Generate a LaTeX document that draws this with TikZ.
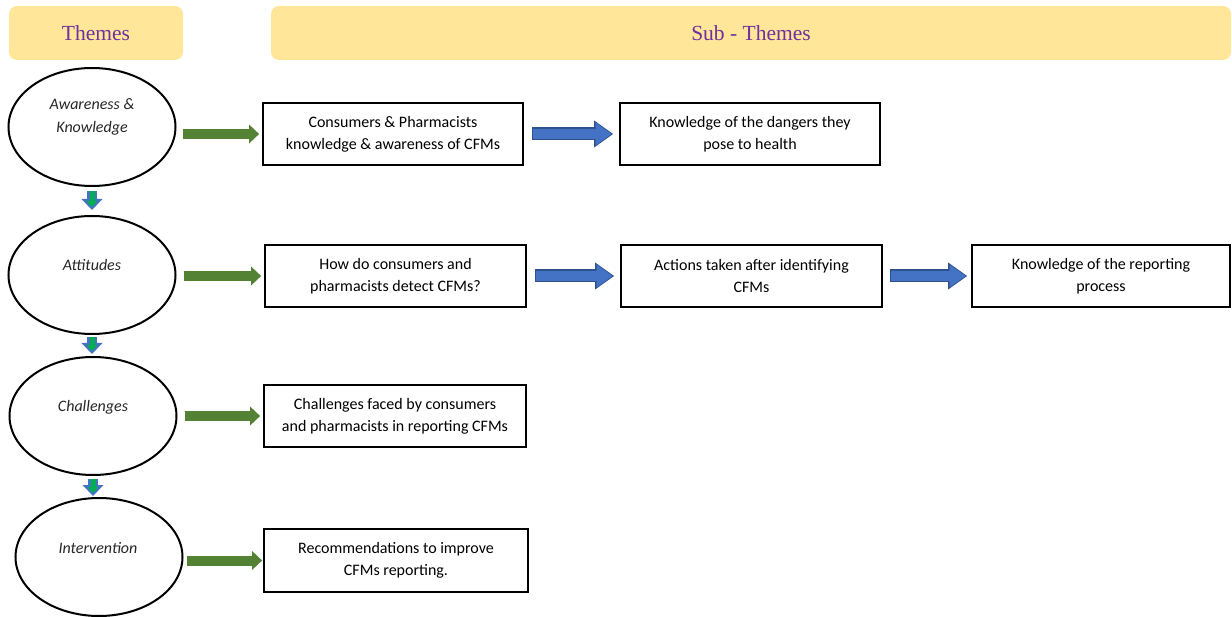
\documentclass[tikz,border=0pt]{standalone}
\usepackage{fontspec}
\setmainfont{Carlito}
\newfontfamily\tnr{Liberation Serif}
\usetikzlibrary{arrows.meta,calc,shapes.geometric}
\definecolor{hdr}{HTML}{FFE699}
\definecolor{purp}{HTML}{7030A0}
\definecolor{garrow}{HTML}{548235}
\definecolor{barrow}{HTML}{4472C4}
\definecolor{bedge}{HTML}{2F528F}
\definecolor{brightgreen}{HTML}{00B050}
\begin{document}
\begin{tikzpicture}[x=1pt,y=-1pt,
  hdrbox/.style={fill=hdr, rounded corners=8pt, draw=none, inner sep=0pt, minimum height=54pt, font=\tnr\fontsize{21.5}{25}\selectfont, text=purp},
  theme/.style={ellipse, draw, line width=2pt, minimum width=167pt, minimum height=118pt, inner sep=0pt},
  ttext/.style={font=\itshape\fontsize{16}{23}\selectfont, align=center, text=black!85, inner sep=0pt},
  sub/.style={draw, line width=1.8pt, minimum width=261pt, minimum height=62pt, inner sep=0pt, align=center, font=\fontsize{16}{22}\selectfont},
  garr/.style={draw=garrow, line width=10pt, -{Triangle[width=19pt,length=10pt,line width=0pt]}, shorten <=6pt, shorten >=3pt},
  barrout/.style={draw=bedge, line width=13pt, -{Triangle[width=27pt,length=19pt,line width=0pt]}, shorten <=8pt, shorten >=6pt},
  barrin/.style={draw=barrow, line width=10.5pt, -{Triangle[width=23pt,length=16pt,line width=0pt]}, shorten <=9.2pt, shorten >=7.6pt},
  darrout/.style={draw=barrow, line width=10pt, -{Triangle[width=21pt,length=11pt,line width=0pt]}},
  darrin/.style={draw=brightgreen, line width=5pt, -{Triangle[width=11pt,length=6pt,line width=0pt]}}
]
\useasboundingbox (0,0) rectangle (1232,617);

% headers
\node[hdrbox, minimum width=174pt] (h1) at (96,33) {Themes};
\node[hdrbox, minimum width=960pt] (h2) at (751,33) {Sub - Themes};

% themes
\node[theme] (e1) at (92,127) {};
\node[theme] (e2) at (92,275) {};
\node[theme] (e3) at (93,416) {};
\node[theme] (e4) at (99,557) {};
\node[ttext] (t1) at (92,117) {Awareness \&\\Knowledge};
\node[ttext] (t2) at (92,265) {Attitudes};
\node[ttext] (t3) at (93,407) {Challenges};
\node[ttext] (t4) at (98,548) {Intervention};

% sub-themes
\node[sub, minimum width=260pt] (b1) at (393,134) {Consumers \& Pharmacists\\knowledge \& awareness of CFMs};
\node[sub, minimum width=260pt] (b2) at (750,134) {Knowledge of the dangers they\\pose to health};
\node[sub] (b3) at (395.5,276) {How do consumers and\\pharmacists detect CFMs?};
\node[sub] (b4) at (751.5,276) {Actions taken after identifying\\CFMs};
\node[sub, minimum width=258pt] (b5) at (1101,276) {Knowledge of the reporting\\process};
\node[sub, minimum width=262pt] (b6) at (395,416) {Challenges faced by consumers\\and pharmacists in reporting CFMs};
\node[sub, minimum width=264pt, minimum height=63pt] (b7) at (396,560.5) {Recommendations to improve\\CFMs reporting.};

% green arrows theme -> sub-theme
\draw[garr] (b1.west -| e1.east) -- (b1.west);
\draw[garr, shorten <=7pt] (b3.west -| e2.east) -- (b3.west);
\draw[garr, shorten <=7pt] (b6.west -| e3.east) -- (b6.west);
\draw[garr, shorten <=3pt, shorten >=1pt] (b7.west -| e4.east) -- (b7.west);

% blue arrows sub-theme -> sub-theme
\draw[barrout] (b1.east) -- (b2.west);
\draw[barrin] (b1.east) -- (b2.west);
\draw[barrout] (b3.east) -- (b4.west);
\draw[barrin] (b3.east) -- (b4.west);
\draw[barrout, shorten <=7pt, shorten >=4pt] (b4.east) -- (b5.west);
\draw[barrin, shorten <=8.2pt, shorten >=5.6pt] (b4.east) -- (b5.west);

% down arrows between themes
\draw[darrout, shorten <=4pt, shorten >=5pt] (e1.south) -- (e2.north);
\draw[darrin, shorten <=4pt, shorten >=8pt] (e1.south) -- (e2.north);
\draw[darrout, shorten <=2pt, shorten >=2pt] (e2.south) -- (e3.north -| e2.south);
\draw[darrin, shorten <=2pt, shorten >=5pt] (e2.south) -- (e3.north -| e2.south);
\draw[darrout, shorten <=3pt, shorten >=1pt] (e3.south) -- (e4.north -| e3.south);
\draw[darrin, shorten <=3pt, shorten >=4pt] (e3.south) -- (e4.north -| e3.south);
\end{tikzpicture}
\end{document}
